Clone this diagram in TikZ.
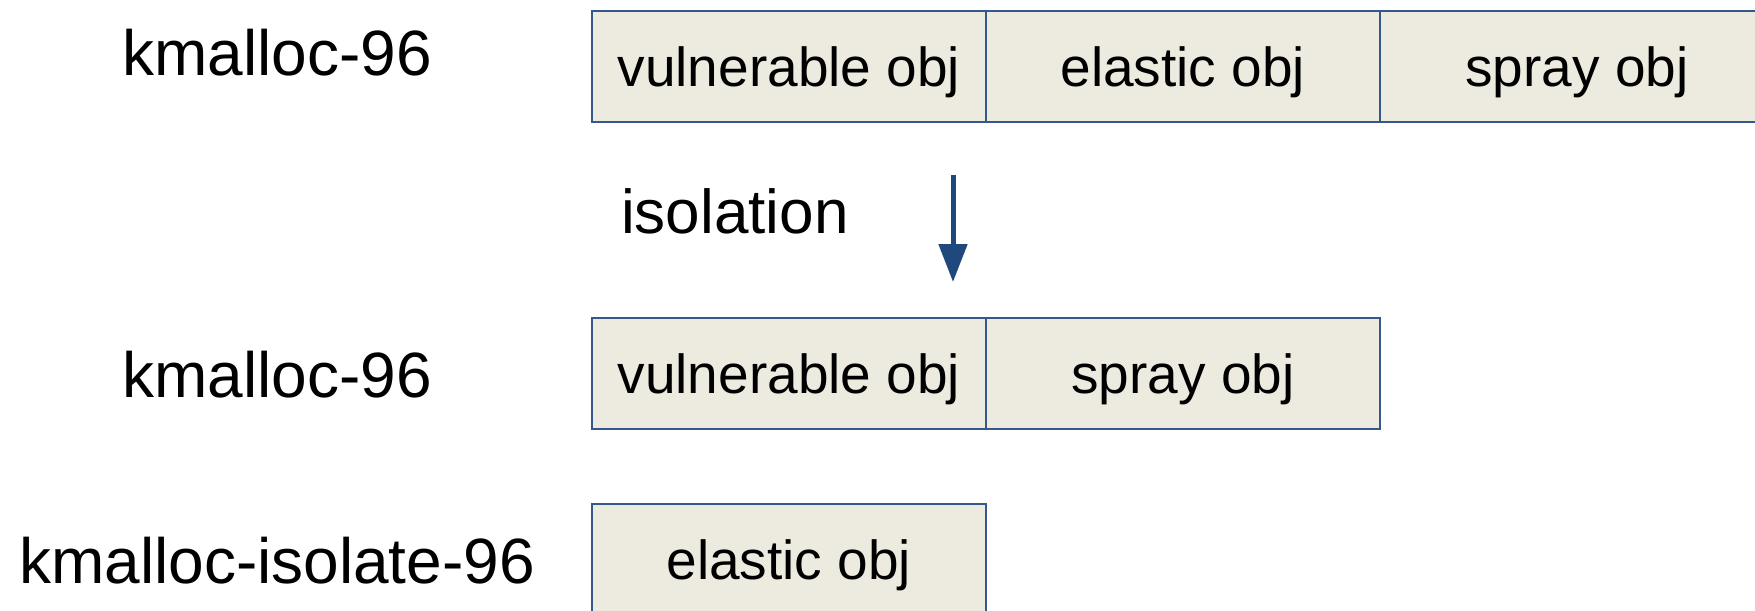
\documentclass[tikz,border=0pt]{standalone}
\usepackage{fontspec}
\setmainfont{Liberation Sans}
\usetikzlibrary{arrows.meta}
\definecolor{cellfill}{RGB}{237,235,224}
\definecolor{cellline}{RGB}{52,88,140}
\definecolor{flowblue}{RGB}{31,73,125}
\begin{document}
\begin{tikzpicture}[x=1pt,y=-1pt,
  cell/.style={draw=cellline,line width=1.8pt,fill=cellfill,
    minimum width=394pt,minimum height=111pt,inner sep=0pt,
    text height=41pt,text depth=0pt,anchor=north west,
    font=\fontsize{55}{60}\selectfont},
  cachename/.style={anchor=base,inner sep=0pt,font=\fontsize{64}{70}\selectfont},
  flow/.style={draw=flowblue,line width=5pt,-{Triangle[length=38pt,width=28pt]}}]
\useasboundingbox (0,0) rectangle (1755,610);

% generic cache before isolation
\node[cachename] (c1) at (277,75) {kmalloc-96};
\node[cell] (v1) at (591,10) {vulnerable obj};
\node[cell] (e1) at (985,10) {elastic obj};
\node[cell] (s1) at (1379,10) {spray obj};

% isolation step
\node[anchor=base west,inner sep=0pt,font=\fontsize{62}{68}\selectfont] (iso) at (621,233) {isolation};
\coordinate (a0) at (953,175);
\coordinate (a1) at (953,282);
\draw[flow] (a0) -- (a1);

% after isolation
\node[cachename] (c2) at (277,397) {kmalloc-96};
\node[cell] (v2) at (591,317) {vulnerable obj};
\node[cell] (s2) at (985,317) {spray obj};

\node[cachename] (c3) at (277,583) {kmalloc-isolate-96};
\node[cell] (e3) at (591,503) {elastic obj};
\end{tikzpicture}
\end{document}
